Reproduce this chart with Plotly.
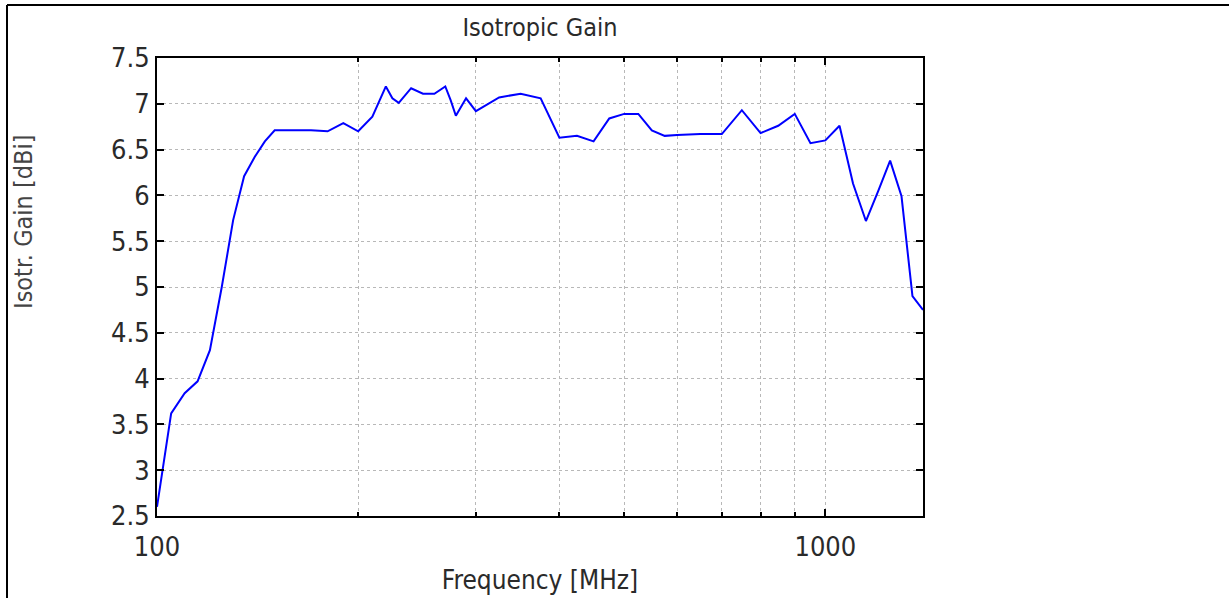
import plotly.graph_objects as go

freq_mhz = [100, 105, 110, 115, 120, 125, 130, 135, 140, 145, 150, 155, 160, 165, 170,
            180, 190, 200, 210, 220, 225, 230, 240, 250, 260, 270, 275, 280, 290, 300,
            325, 350, 375, 400, 425, 450, 475, 500, 525, 550, 575, 600, 650, 700, 750,
            800, 850, 900, 950, 1000, 1050, 1100, 1150, 1200, 1250, 1300, 1350, 1400]
gain_dbi = [2.60, 3.62, 3.84, 3.97, 4.31, 5.00, 5.73, 6.21, 6.42, 6.59, 6.71, 6.71, 6.71, 6.71, 6.71,
            6.70, 6.79, 6.70, 6.86, 7.19, 7.06, 7.01, 7.17, 7.11, 7.11, 7.19, 7.04, 6.87, 7.06, 6.92,
            7.07, 7.11, 7.06, 6.63, 6.65, 6.59, 6.84, 6.89, 6.89, 6.71, 6.65, 6.66, 6.67, 6.67, 6.93,
            6.68, 6.76, 6.89, 6.57, 6.60, 6.76, 6.13, 5.72, 6.05, 6.38, 5.99, 4.90, 4.75]

x_major_ticks = [100, 1000]
x_minor_ticks = [200, 300, 400, 500, 600, 700, 800, 900]
y_ticks = [2.5, 3, 3.5, 4, 4.5, 5, 5.5, 6, 6.5, 7, 7.5]

FONT = "DejaVu Sans Condensed, Liberation Sans Narrow, sans-serif"
GRID = "#b8b8b8"
TXT = "#2a2a2a"

fig = go.Figure()
fig.add_trace(go.Scatter(x=freq_mhz, y=gain_dbi, mode="lines",
                         line=dict(color="#0000ff", width=2), showlegend=False))

# plot area in pixels: x 157..923, y 58..516
W, H = 1229, 598
L, R, T, B = 157, 923, 58, 516
pw, ph = R - L, B - T

fig.update_layout(
    width=W, height=H,
    margin=dict(l=L, r=W - R, t=T, b=H - B, autoexpand=False),
    paper_bgcolor="white", plot_bgcolor="white",
    font=dict(family=FONT, color=TXT),
    title=dict(text="Isotropic Gain", x=(L + R) / 2 / W, xanchor="center",
               y=1 - 27 / H, yanchor="middle", font=dict(size=25, family=FONT, color=TXT)),
    xaxis=dict(
        type="log", range=[2, 3.1461], automargin=False,
        tickvals=x_major_ticks, ticktext=[str(v) for v in x_major_ticks],
        ticks="inside", ticklen=7, tickwidth=2, tickcolor="black",
        showline=True, linecolor="black", linewidth=2, mirror="allticks",
        showgrid=True, gridcolor=GRID, griddash="3px,3px", gridwidth=1,
        tickfont=dict(size=27, family=FONT, color=TXT), ticklabelstandoff=6,
        minor=dict(tickvals=x_minor_ticks, ticks="inside", ticklen=4, tickcolor="black",
                   showgrid=True, gridcolor=GRID, griddash="3px,3px", gridwidth=1),
        title=dict(text="Frequency [MHz]", font=dict(size=26, family=FONT, color=TXT), standoff=9),
        zeroline=False,
    ),
    yaxis=dict(
        range=[2.5, 7.5], automargin=False,
        tickvals=y_ticks, ticktext=[f"{v:g}" for v in y_ticks],
        ticks="inside", ticklen=7, tickwidth=2, tickcolor="black",
        showline=True, linecolor="black", linewidth=2, mirror="allticks",
        showgrid=True, gridcolor=GRID, griddash="3px,3px", gridwidth=1,
        tickfont=dict(size=27, family=FONT, color=TXT),
        zeroline=False,
    ),
    annotations=[dict(
        text="Isotr. Gain [dBi]", textangle=-90, showarrow=False,
        xref="paper", yref="paper",
        x=(24 - L) / pw, y=(B - 222) / ph, xanchor="center", yanchor="middle",
        font=dict(size=25, family=FONT, color="#444444"),
    )],
    shapes=[
        dict(type="line", xref="paper", yref="paper",
             x0=(7 - L) / pw, x1=(7 - L) / pw, y0=(B - 5) / ph, y1=(B - 600) / ph,
             line=dict(color="black", width=2)),
        dict(type="line", xref="paper", yref="paper",
             x0=(7 - L) / pw, x1=(1230 - L) / pw, y0=(B - 5) / ph, y1=(B - 5) / ph,
             line=dict(color="black", width=2)),
    ],
)

fig.write_html("out.html", config={"displayModeBar": False},
               post_script="document.body.style.margin='0';document.body.style.overflow='hidden';")
